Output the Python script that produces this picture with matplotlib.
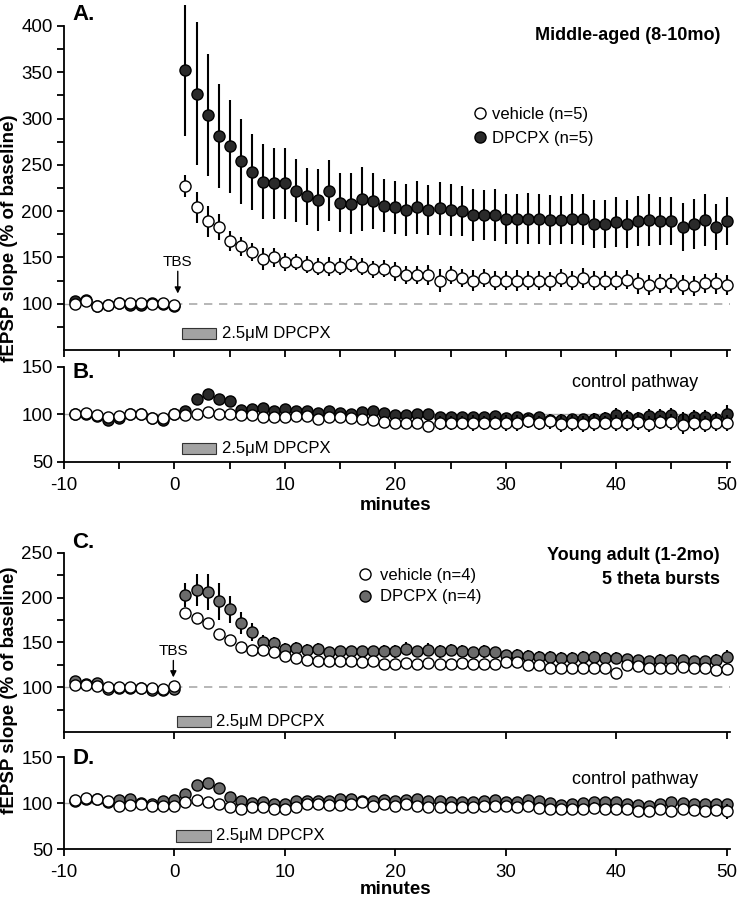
import matplotlib
matplotlib.use("Agg")
import matplotlib.pyplot as plt
from matplotlib.lines import Line2D
from matplotlib.patches import Rectangle
import numpy as np

plt.rcParams["font.family"] = ["Liberation Sans", "DejaVu Sans"]
plt.rcParams["axes.unicode_minus"] = False

# time axis: 1 point per minute, baseline -9..0, post-TBS 1..50
minutes = np.arange(-9, 51)

# ---- A. middle-aged, TBS pathway ----
a_veh = [100, 103, 97, 99, 101, 101, 101, 100, 101, 99,
         227, 204, 189, 183, 168, 162, 156, 148, 150, 145, 145, 142, 140, 140, 140, 143, 140,
         137, 138, 135, 131, 131, 131, 125, 131, 128, 125, 128, 125, 125, 125, 125, 125, 124,
         128, 125, 128, 125, 125, 125, 126, 122, 120, 122, 122, 120, 119, 122, 122, 120]
a_veh_err = [4, 4, 4, 3, 3, 3, 3, 3, 3, 4,
             12, 17, 17, 14, 11, 10, 10, 12, 10, 10, 9, 9, 9, 10, 9, 9, 9,
             9, 9, 10, 10, 10, 11, 12, 10, 10, 11, 10, 10, 10, 11, 10, 10, 10,
             10, 10, 11, 10, 10, 10, 10, 11, 11, 10, 10, 11, 11, 10, 11, 11]
a_dpc = [103, 104, 98, 99, 101, 99, 99, 101, 100, 98,
         352, 327, 304, 281, 270, 254, 242, 232, 230, 230, 222, 216, 212, 222, 209, 208, 213,
         211, 206, 204, 201, 204, 201, 203, 201, 200, 196, 196, 196, 192, 192, 192, 191, 190,
         190, 192, 191, 186, 186, 188, 186, 189, 190, 189, 189, 183, 186, 190, 183, 189]
a_dpc_err = [4, 4, 3, 3, 3, 3, 3, 3, 3, 3,
             71, 77, 66, 56, 50, 46, 41, 41, 38, 38, 34, 31, 33, 33, 32, 33, 35,
             30, 29, 29, 28, 29, 27, 29, 28, 27, 28, 27, 28, 27, 27, 28, 27, 27,
             26, 27, 28, 26, 26, 27, 26, 27, 28, 26, 26, 26, 27, 28, 25, 26]

# ---- B. middle-aged, control pathway ----
b_veh = [101, 102, 99, 97, 98, 100, 100, 96, 96, 101,
         99, 100, 103, 101, 100, 99, 99, 97, 97, 97, 98, 98, 95, 97, 97, 96, 95,
         94, 92, 91, 91, 91, 88, 91, 91, 91, 91, 91, 91, 91, 91, 93, 91, 93,
         90, 91, 90, 91, 91, 91, 91, 92, 90, 92, 92, 89, 91, 90, 91, 91]
b_veh_err = [2, 2, 2, 2, 2, 2, 2, 2, 2, 2,
             3, 3, 4, 3, 3, 3, 4, 4, 4, 4, 4, 5, 5, 5, 5, 5, 5,
             5, 6, 6, 6, 6, 6, 7, 7, 7, 8, 7, 7, 8, 8, 7, 7, 8,
             8, 8, 8, 8, 7, 8, 8, 8, 8, 7, 8, 10, 8, 8, 8, 8]
b_dpc = [101, 100, 98, 94, 96, 101, 101, 96, 94, 100,
         104, 116, 122, 116, 114, 105, 106, 107, 104, 106, 104, 104, 102, 104, 102, 100, 103,
         104, 102, 99, 99, 100, 101, 97, 97, 97, 97, 97, 98, 96, 97, 96, 97, 94,
         94, 95, 95, 95, 96, 99, 97, 96, 98, 98, 99, 95, 97, 97, 95, 101]
b_dpc_err = [2, 2, 2, 2, 2, 2, 2, 2, 2, 2,
             3, 3, 3, 3, 3, 3, 3, 4, 4, 4, 4, 4, 4, 4, 4, 4, 4,
             4, 5, 5, 5, 6, 5, 5, 5, 5, 5, 6, 6, 5, 6, 5, 6, 6,
             6, 6, 6, 7, 7, 8, 8, 7, 8, 8, 8, 8, 8, 8, 8, 9]

# ---- C. young adult, TBS pathway ----
c_veh = [103, 103, 101, 100, 100, 100, 99, 99, 98, 101,
         183, 177, 172, 160, 153, 145, 142, 142, 139, 135, 133, 130, 129, 129, 129, 129, 128,
         129, 126, 126, 127, 126, 127, 126, 126, 127, 126, 126, 126, 128, 128, 125, 125, 121,
         121, 121, 121, 121, 121, 116, 125, 124, 121, 121, 121, 123, 121, 121, 119, 120]
c_veh_err = [2, 2, 2, 2, 2, 2, 2, 2, 2, 2,
             3, 3, 3, 3, 3, 3, 3, 3, 3, 3, 4, 4, 4, 4, 4, 4, 4,
             4, 4, 4, 4, 4, 4, 4, 4, 4, 4, 4, 4, 4, 4, 4, 4, 4,
             4, 4, 4, 4, 4, 4, 5, 4, 4, 4, 4, 4, 4, 4, 5, 5]
c_dpc = [107, 104, 105, 98, 99, 99, 99, 97, 97, 98,
         203, 209, 206, 196, 187, 172, 162, 151, 149, 143, 144, 142, 143, 139, 140, 140, 140,
         140, 141, 140, 143, 140, 142, 140, 142, 141, 139, 140, 139, 136, 136, 135, 134, 134,
         133, 133, 134, 134, 133, 133, 131, 130, 129, 130, 130, 130, 129, 129, 130, 134]
c_dpc_err = [3, 3, 3, 3, 3, 3, 3, 3, 3, 3,
             13, 18, 20, 21, 15, 12, 10, 7, 7, 6, 6, 6, 6, 6, 6, 6, 6,
             6, 6, 7, 7, 6, 7, 7, 6, 6, 6, 7, 6, 6, 7, 7, 6, 6,
             6, 6, 7, 7, 6, 6, 6, 6, 6, 7, 6, 6, 6, 6, 7, 8]

# ---- D. young adult, control pathway ----
d_veh = [103, 105, 104, 102, 97, 98, 99, 97, 97, 97,
         101, 103, 101, 99, 96, 93, 96, 96, 93, 94, 96, 99, 99, 98, 98, 99, 101,
         97, 99, 97, 99, 97, 96, 96, 96, 96, 96, 97, 97, 97, 96, 97, 95, 93,
         93, 93, 93, 95, 93, 93, 93, 91, 91, 93, 91, 93, 92, 91, 92, 91]
d_veh_err = [2, 2, 2, 2, 2, 2, 2, 2, 2, 2,
             2, 2, 2, 3, 3, 3, 3, 3, 3, 3, 3, 4, 4, 4, 4, 5, 5,
             5, 5, 5, 5, 5, 5, 5, 5, 5, 5, 5, 5, 5, 5, 6, 6, 6,
             6, 6, 6, 6, 6, 6, 6, 6, 6, 6, 6, 6, 6, 6, 6, 8]
d_dpc = [102, 104, 104, 101, 103, 104, 100, 99, 102, 103,
         110, 120, 122, 116, 107, 102, 100, 101, 99, 99, 102, 102, 102, 102, 104, 104, 102,
         102, 103, 102, 103, 104, 102, 102, 101, 101, 101, 102, 103, 101, 101, 103, 102, 100,
         98, 99, 100, 101, 101, 101, 99, 98, 97, 99, 101, 100, 99, 99, 99, 99]
d_dpc_err = [2, 2, 2, 2, 2, 2, 2, 2, 2, 2,
             3, 3, 3, 3, 3, 3, 3, 3, 3, 3, 3, 3, 3, 3, 3, 3, 3,
             3, 3, 3, 3, 3, 3, 3, 3, 3, 3, 3, 3, 3, 3, 4, 4, 4,
             4, 4, 4, 4, 4, 4, 4, 4, 4, 4, 4, 4, 4, 4, 4, 4]

baseline = 100
dark_old = "#2a2a2a"
dark_young = "#6b6b6b"
bar_gray = "#a3a3a3"
ms = 8.0

fig = plt.figure(figsize=(7.39, 8.99), dpi=100)

L, W = 64 / 739, 666 / 739
axA = fig.add_axes([L, 0.6107, W, 0.3604])
axB = fig.add_axes([L, 0.4861, W, 0.1057])
axC = fig.add_axes([L, 0.1858, W, 0.1991])
axD = fig.add_axes([L, 0.0556, W, 0.1023])


def plot_series(ax, y, err, fc, z):
    cont = ax.errorbar(minutes, y, yerr=err, fmt="o", ms=ms, mfc=fc, mec="black",
                       mew=1.0, ecolor="black", elinewidth=1.5, capsize=0, zorder=z)
    cont[0].set_clip_on(False)
    for c in cont[2]:
        c.set_clip_on(False)
        c.set_zorder(z - 0.5)


def setup(ax, ytop, major, minor, xstep, xlabels):
    ax.set_xlim(-10, 50.3)
    ax.set_ylim(50, ytop)
    for s in ["top", "right"]:
        ax.spines[s].set_visible(False)
    for s in ["left", "bottom"]:
        ax.spines[s].set_linewidth(1.3)
    ax.set_yticks(major)
    ax.set_yticks(minor, minor=True)
    ax.set_xticks(np.arange(-10, 51, xstep))
    if not xlabels:
        ax.set_xticklabels([])
    else:
        ax.set_xticks(np.arange(-10, 51, 10))
        ax.set_xticks(np.arange(-5, 51, 10), minor=True)
    ax.tick_params(which="both", direction="out", width=1.3, length=5, labelsize=13.5, pad=3)
    ax.tick_params(axis="x", pad=6)
    ax.patch.set_visible(False)


def drug_bar(ax, x0, x1, y0, y1, tx):
    ax.add_patch(Rectangle((x0, y0), x1 - x0, y1 - y0, facecolor=bar_gray,
                           edgecolor="#333333", lw=0.8, zorder=3))
    ax.text(tx, (y0 + y1) / 2, "2.5\u03bcM DPCPX", fontsize=12, va="center", ha="left")


def legend_handles(fc):
    return [Line2D([], [], ls="none", marker="o", ms=ms, mfc="white", mec="black", mew=1.0),
            Line2D([], [], ls="none", marker="o", ms=ms, mfc=fc, mec="black", mew=1.0)]


# A
setup(axA, 400, np.arange(100, 401, 50), np.arange(75, 400, 25), 5, False)
axA.hlines(baseline, 0, 50.3, colors="#aaaaaa", linestyles=(0, (5, 4)), lw=1.2, zorder=1)
axA.hlines(baseline, -10, 0, colors="#aaaaaa", lw=1.0, zorder=1)
plot_series(axA, a_dpc, a_dpc_err, dark_old, 4)
plot_series(axA, a_veh, a_veh_err, "white", 6)
drug_bar(axA, 0.7, 3.8, 62, 74, 4.3)
axA.annotate("TBS", xy=(0.3, 111), xytext=(0.3, 138), ha="center", va="bottom", fontsize=11,
             arrowprops=dict(arrowstyle="-|>", color="black", lw=1.0, mutation_scale=9,
                             shrinkA=0, shrinkB=0))
axA.legend(legend_handles(dark_old), ["vehicle (n=5)", "DPCPX (n=5)"], loc="center left",
           bbox_to_anchor=(0.615, 0.69), frameon=False, fontsize=12, handlelength=0.8,
           handletextpad=0.3, labelspacing=0.5, borderpad=0, borderaxespad=0)

# B
setup(axB, 150, [50, 100, 150], [], 5, True)
axB.hlines(baseline, -10, 50.3, colors="#aaaaaa", lw=1.0, zorder=1)
plot_series(axB, b_dpc, b_dpc_err, dark_old, 4)
plot_series(axB, b_veh, b_veh_err, "white", 6)
drug_bar(axB, 0.7, 3.8, 58, 70, 4.3)

# C
setup(axC, 250, np.arange(100, 251, 50), np.arange(75, 250, 50), 10, False)
axC.hlines(baseline, 0, 50.3, colors="#aaaaaa", linestyles=(0, (5, 4)), lw=1.2, zorder=1)
axC.hlines(baseline, -10, 0, colors="#aaaaaa", lw=1.0, zorder=1)
plot_series(axC, c_dpc, c_dpc_err, dark_young, 4)
plot_series(axC, c_veh, c_veh_err, "white", 6)
drug_bar(axC, 0.2, 3.3, 56, 68, 3.8)
axC.annotate("TBS", xy=(-0.1, 111), xytext=(-0.1, 133), ha="center", va="bottom", fontsize=11,
             arrowprops=dict(arrowstyle="-|>", color="black", lw=1.0, mutation_scale=9,
                             shrinkA=0, shrinkB=0))
axC.legend(legend_handles(dark_young), ["vehicle (n=4)", "DPCPX (n=4)"], loc="center left",
           bbox_to_anchor=(0.442, 0.815), frameon=False, fontsize=12, handlelength=0.8,
           handletextpad=0.5, labelspacing=0.4, borderpad=0, borderaxespad=0)

# D
setup(axD, 150, [50, 100, 150], [], 10, True)
axD.set_xticks([], minor=True)
axD.hlines(baseline, -10, 50.3, colors="#aaaaaa", lw=1.0, zorder=1)
plot_series(axD, d_dpc, d_dpc_err, dark_young, 4)
plot_series(axD, d_veh, d_veh_err, "white", 6)
drug_bar(axD, 0.1, 3.3, 58, 71, 3.8)


def ftext(x, y, s, **kw):
    fig.text(x / 739, 1 - y / 899, s, **kw)


for lab, y in [("A.", 14), ("B.", 372), ("C.", 543), ("D.", 758)]:
    ftext(72, y, lab, fontsize=16, fontweight="bold", va="center", ha="left")

ftext(720, 36, "Middle-aged (8-10mo)", fontsize=13, fontweight="bold", ha="right", va="center")
ftext(720, 555, "Young adult (1-2mo)", fontsize=13, fontweight="bold", ha="right", va="center")
ftext(720, 580, "5 theta bursts", fontsize=13, fontweight="bold", ha="right", va="center")
ftext(698, 383, "control pathway", fontsize=13, ha="right", va="center")
ftext(698, 780, "control pathway", fontsize=13, ha="right", va="center")
ftext(396, 505, "minutes", fontsize=13.5, fontweight="bold", ha="center", va="center")
ftext(396, 889, "minutes", fontsize=13.5, fontweight="bold", ha="center", va="center")
ftext(10, 238, "fEPSP slope (% of baseline)", fontsize=13.5, fontweight="bold",
      rotation=90, ha="center", va="center")
ftext(10, 690, "fEPSP slope (% of baseline)", fontsize=13.5, fontweight="bold",
      rotation=90, ha="center", va="center")

fig.savefig("out.png", dpi=100)
